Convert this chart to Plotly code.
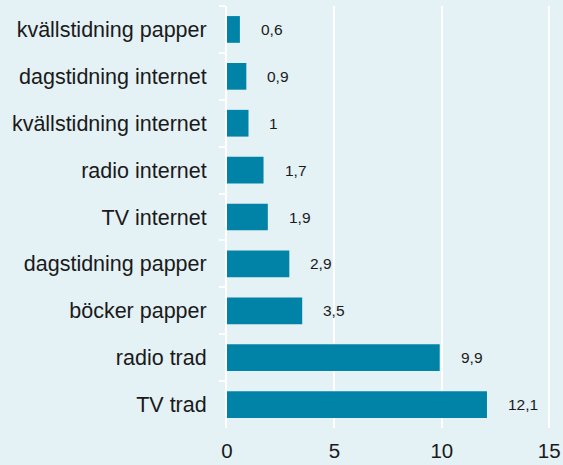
import plotly.graph_objects as go

categories = [
    "kvällstidning papper",
    "dagstidning internet",
    "kvällstidning internet",
    "radio internet",
    "TV internet",
    "dagstidning papper",
    "böcker papper",
    "radio trad",
    "TV trad",
]
values = [0.6, 0.9, 1.0, 1.7, 1.9, 2.9, 3.5, 9.9, 12.1]
value_labels = ["0,6", "0,9", "1", "1,7", "1,9", "2,9", "3,5", "9,9", "12,1"]
x_ticks = [0, 5, 10, 15]

BG = "#e4f1f5"
BAR = "#0083a7"
TXT = "#1a1a1a"
FONT = "Liberation Sans, Arial, sans-serif"

fig = go.Figure()
fig.add_trace(go.Bar(
    x=values, y=categories, orientation="h",
    marker=dict(color=BAR, line=dict(width=0)),
    hoverinfo="skip",
))

for c, v, t in zip(categories, values, value_labels):
    fig.add_annotation(x=v, y=c, text=t, showarrow=False, xanchor="left",
                       xshift=19, font=dict(size=15.5, color=TXT, family=FONT))

fig.update_layout(
    width=563, height=465,
    paper_bgcolor=BG, plot_bgcolor=BG,
    margin=dict(l=227, r=12, t=6, b=37),
    bargap=0.43,
    showlegend=False,
    font=dict(family=FONT, color=TXT, size=21),
)
fig.update_xaxes(
    range=[0, 15.08], tickvals=x_ticks, ticktext=[str(v) for v in x_ticks],
    showgrid=True, gridcolor="white", gridwidth=2,
    zeroline=False, showline=False, ticks="",
    ticklabelstandoff=8, automargin=False,
    tickfont=dict(size=20.5, color=TXT),
)
fig.update_yaxes(
    autorange="reversed", showline=True, linecolor="white", linewidth=2,
    ticks="outside", tickson="boundaries", tickcolor="white", ticklen=6, tickwidth=2,
    ticklabelstandoff=14,
    tickfont=dict(size=21.5, color=TXT), showgrid=False,
)

fig.write_html("out.html", config={"displayModeBar": False},
               post_script="document.body.style.margin='0';")
